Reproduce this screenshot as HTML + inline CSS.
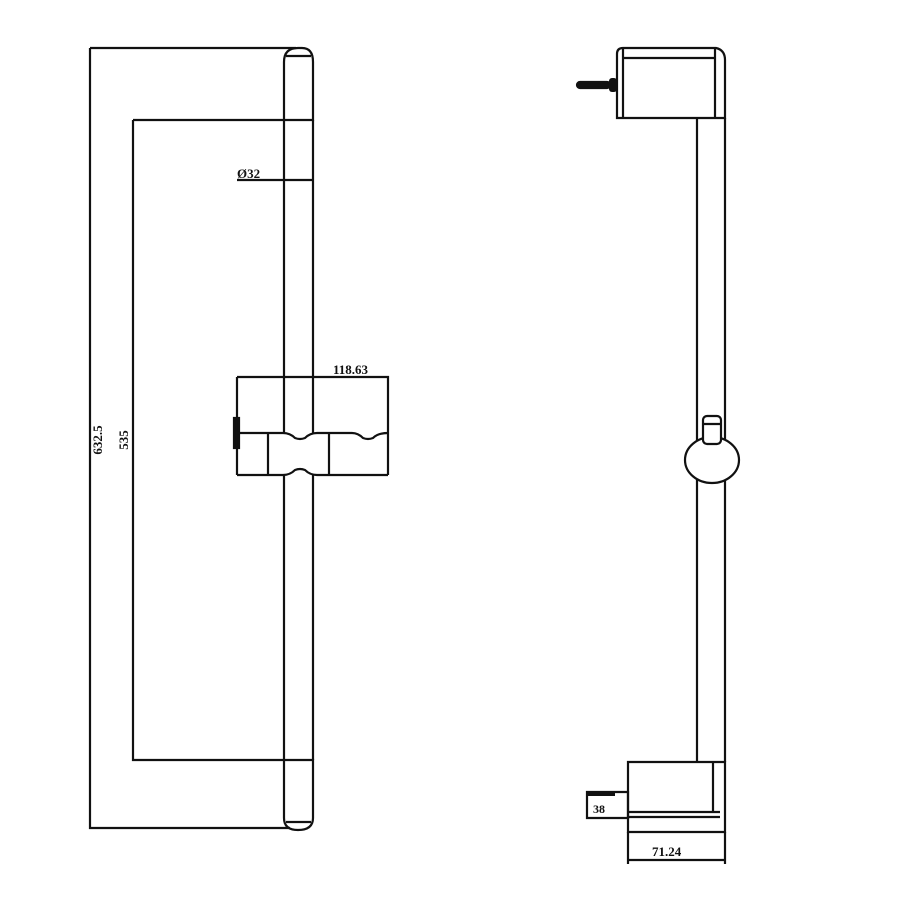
<!DOCTYPE html>
<html><head><style>body{margin:0;background:#fff}svg{display:block}</style></head><body>
<svg width="900" height="900" viewBox="0 0 900 900" xmlns="http://www.w3.org/2000/svg" fill="none" stroke="#111" stroke-width="2.2">
<path d="M90 48 H296 M90 48 V828 H290"/>
<path d="M133 120 H284 M133 120 V760 H284"/>
<path d="M237 180 H313"/>
<text x="237" y="178" font-family="Liberation Serif,serif" font-size="13" font-weight="bold" fill="#111" stroke="none">Ø32</text>
<text transform="translate(102,440) rotate(-90)" font-family="Liberation Serif,serif" font-size="13" font-weight="bold" fill="#111" stroke="none" text-anchor="middle">632.5</text>
<text transform="translate(128,440) rotate(-90)" font-family="Liberation Serif,serif" font-size="13" font-weight="bold" fill="#111" stroke="none" text-anchor="middle">535</text>
<path d="M284 62 Q284 48 298 48 H302 Q313 48 313 62 V120 H284 Z"/>
<path d="M286 56 H311"/>
<path d="M284 120 V760 M313 120 V760"/>
<path d="M284 760 H313 V818 Q313 830 298 830 Q284 830 284 818 Z"/>
<path d="M286 822 H311"/>
<path d="M237 377 H388 V475 M237 377 V475"/>
<text x="333" y="374" font-family="Liberation Serif,serif" font-size="13" font-weight="bold" fill="#111" stroke="none">118.63</text>
<rect x="282" y="434" width="34" height="40" fill="#fff" stroke="none"/>
<rect x="234" y="418" width="5" height="30" fill="#111"/>
<path d="M237 433 H283 Q290 433 295 438 Q300 440 305 438 Q310 433 317 433 H352 Q358 433 363 438 Q368 440 373 438 Q378 433 388 433"/>
<path d="M237 475 H283 Q290 475 295 470 Q300 468 305 470 Q310 475 317 475 H388"/>
<path d="M268 433 V475 M329 433 V475"/>
<path d="M617 54 Q617 48 623 48 H716 Q725 50 725 60 V118 H617 Z" fill="#fff"/>
<path d="M623 48 V118 M715 48 V118 M623 58 H715"/>
<path d="M697 118 V762 M725 118 V762"/>
<rect x="577" y="82" width="33" height="6" rx="3" fill="#111"/>
<rect x="609" y="78" width="8" height="14" rx="3" fill="#111" stroke="none"/>
<ellipse cx="712" cy="460" rx="27" ry="23" fill="#fff"/>
<rect x="703" y="416" width="18" height="28" rx="4" fill="#fff"/>
<path d="M703 424 H721"/>
<path d="M628 762 H725 V832 H628 Z"/>
<path d="M628 812 H720 M628 817 H720 M713 762 V812"/>
<path d="M587 792 H628 V818 H587 Z"/>
<rect x="587" y="792" width="28" height="4" fill="#111" stroke="none"/>
<text x="593" y="813" font-family="Liberation Serif,serif" font-size="12" font-weight="bold" fill="#111" stroke="none">38</text>
<path d="M628 832 V864 M725 832 V864 M628 860 H725"/>
<text x="652" y="856" font-family="Liberation Serif,serif" font-size="13" font-weight="bold" fill="#111" stroke="none">71.24</text>
</svg>
</body></html>
